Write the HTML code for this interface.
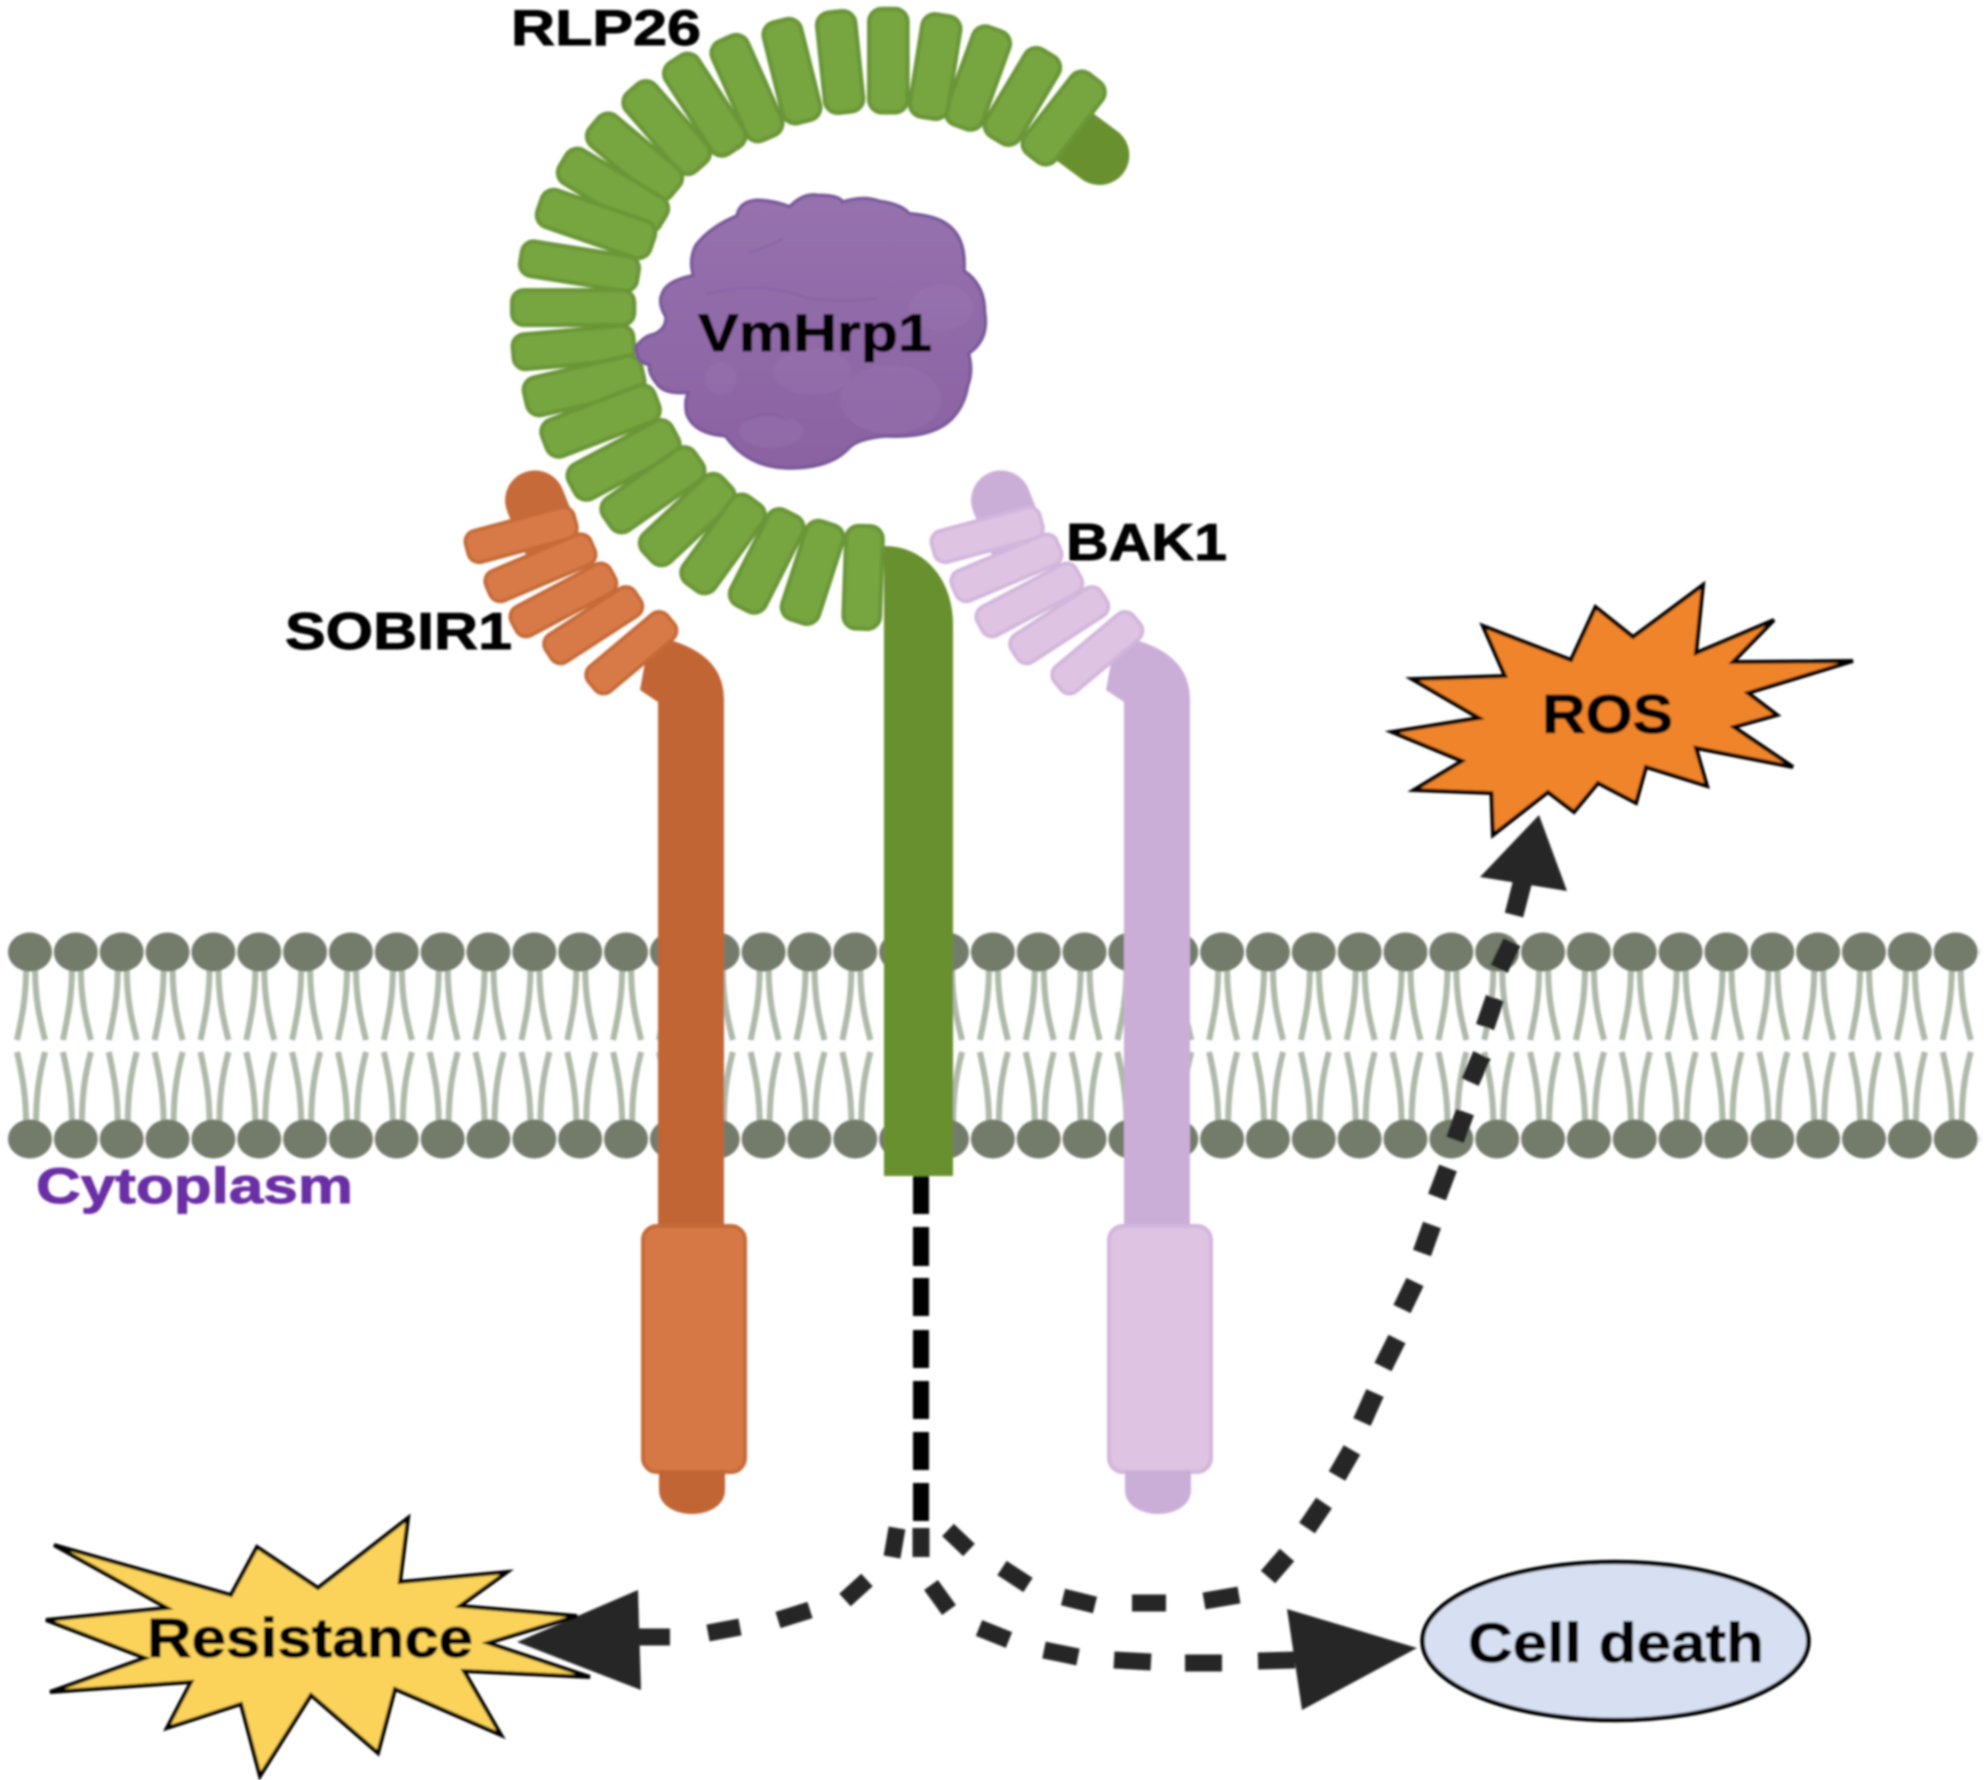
<!DOCTYPE html>
<html lang="en">
<head>
<meta charset="utf-8">
<title>VmHrp1 RLP26 signalling diagram</title>
<style>
html,body{margin:0;padding:0;background:#fff;width:1984px;height:1780px;overflow:hidden}
svg{display:block}
text{font-family:"Liberation Sans",Arial,sans-serif;font-weight:700;fill:#050505;stroke:#050505;stroke-width:.9}
</style>
</head>
<body>
<svg xmlns="http://www.w3.org/2000/svg" width="1984" height="1780" viewBox="0 0 1984 1780">
<defs>
<filter id="soft" x="-2%" y="-2%" width="104%" height="104%"><feGaussianBlur stdDeviation="1"/></filter>
<linearGradient id="blob" x1="0" y1="0" x2="0" y2="1"><stop offset="0" stop-color="#9672ae"/><stop offset="1" stop-color="#8b62a2"/></linearGradient>
<pattern id="lipid" patternUnits="userSpaceOnUse" x="7.075" y="925" width="45.85" height="240">
  <g fill="none" stroke="#aeb9a9" stroke-width="6">
    <path d="M19 44 C19 75 14 95 10 115"/>
    <path d="M28 44 C28 75 33 95 38 115"/>
    <path d="M10 127 C15 150 19 170 19 198"/>
    <path d="M38 127 C32 150 29 170 29 198"/>
  </g>
  <ellipse cx="22.9" cy="27" rx="22" ry="19.5" fill="#737c6a"/>
  <ellipse cx="22.9" cy="214" rx="22" ry="19.5" fill="#737c6a"/>
</pattern>
</defs>
<rect width="1984" height="1780" fill="#fff"/>
<g filter="url(#soft)">

<!-- membrane -->
<rect x="7" y="925" width="1973" height="240" fill="url(#lipid)"/>

<!-- SOBIR1 -->
<g>
  <path d="M650 635 C700 645 724 665 724 700 V1240 H658 V702 L640 690 Z" fill="#c16534"/>
  <rect x="643" y="1226" width="102" height="246" rx="14" fill="#d67845" stroke="#c56a38" stroke-width="4"/>
  <path d="M659 1470 H725 V1490 C725 1506 708 1514 692 1514 C676 1514 659 1506 659 1490 Z" fill="#c16534"/>
  <g transform="translate(450,0) scale(.459)">
    <path d="M185 1090 L215 1165" stroke="#c56a38" stroke-width="130" stroke-linecap="round" fill="none"/>
    <g fill="#d87a47" stroke="#c56a38" stroke-width="8">
      <rect x="-35" y="-122" width="70" height="244" rx="24" transform="translate(155,1165) rotate(-105)"/>
      <rect x="-35" y="-124" width="70" height="248" rx="24" transform="translate(197,1237) rotate(-113)"/>
      <rect x="-35" y="-122" width="70" height="244" rx="24" transform="translate(247,1307) rotate(-118)"/>
      <rect x="-35" y="-116" width="70" height="232" rx="24" transform="translate(312,1362) rotate(-123)"/>
      <rect x="-35" y="-112" width="70" height="224" rx="24" transform="translate(395,1422) rotate(-130)"/>
    </g>
  </g>
</g>

<!-- BAK1 -->
<g transform="translate(466,0)">
  <path d="M650 635 C700 645 724 665 724 700 V1240 H658 V702 L640 690 Z" fill="#cbaed8"/>
  <rect x="643" y="1226" width="102" height="246" rx="14" fill="#dfc3e3" stroke="#d2b6dc" stroke-width="4"/>
  <path d="M659 1470 H725 V1490 C725 1506 708 1514 692 1514 C676 1514 659 1506 659 1490 Z" fill="#cbaed8"/>
  <g transform="translate(450,0) scale(.459)">
    <path d="M185 1090 L215 1165" stroke="#cbaed8" stroke-width="130" stroke-linecap="round" fill="none"/>
    <g fill="#dfc3e3" stroke="#d2b6dc" stroke-width="8">
      <rect x="-35" y="-122" width="70" height="244" rx="24" transform="translate(155,1165) rotate(-105)"/>
      <rect x="-35" y="-124" width="70" height="248" rx="24" transform="translate(197,1237) rotate(-113)"/>
      <rect x="-35" y="-122" width="70" height="244" rx="24" transform="translate(247,1307) rotate(-118)"/>
      <rect x="-35" y="-116" width="70" height="232" rx="24" transform="translate(312,1362) rotate(-123)"/>
      <rect x="-35" y="-112" width="70" height="224" rx="24" transform="translate(395,1422) rotate(-130)"/>
    </g>
  </g>
</g>

<!-- RLP26 stalk -->
<path d="M884 546 C925 546 953 580 953 625 V1176 H884 Z" fill="#67902f"/>

<!-- RLP26 arc -->
<g transform="translate(450,0) scale(.459)">
  <path d="M1350 290 L1415 338" stroke="#67902f" stroke-width="130" stroke-linecap="round" fill="none"/>
  <g fill="#77a53f" stroke="#6a9637" stroke-width="9">
    <rect x="-42" y="-110" width="84" height="220" rx="28" transform="translate(1337,257) rotate(38)"/>
    <rect x="-42" y="-110" width="84" height="220" rx="28" transform="translate(1247,210) rotate(31)"/>
    <rect x="-42" y="-113" width="84" height="226" rx="28" transform="translate(1150,170) rotate(20)"/>
    <rect x="-42" y="-113" width="84" height="226" rx="28" transform="translate(1057,145) rotate(9)"/>
    <rect x="-42" y="-113" width="84" height="226" rx="28" transform="translate(955,132) rotate(0)"/>
    <rect x="-42" y="-110" width="84" height="220" rx="28" transform="translate(850,135) rotate(-6)"/>
    <rect x="-42" y="-113" width="84" height="226" rx="28" transform="translate(745,155) rotate(-14)"/>
    <rect x="-42" y="-118" width="84" height="236" rx="28" transform="translate(647,192) rotate(-24)"/>
    <rect x="-42" y="-118" width="84" height="236" rx="28" transform="translate(555,228) rotate(-33)"/>
    <rect x="-42" y="-113" width="84" height="226" rx="28" transform="translate(472,278) rotate(-41)"/>
    <rect x="-42" y="-115" width="84" height="230" rx="28" transform="translate(402,342) rotate(-50)"/>
    <rect x="-42" y="-127" width="84" height="254" rx="28" transform="translate(355,415) rotate(-59)"/>
    <rect x="-42" y="-130" width="84" height="260" rx="28" transform="translate(318,488) rotate(-71)"/>
    <rect x="-38" y="-129" width="76" height="258" rx="26" transform="translate(282,580) rotate(-81)"/>
    <rect x="-38" y="-133" width="76" height="266" rx="26" transform="translate(268,670) rotate(-90)"/>
    <rect x="-38" y="-132" width="76" height="264" rx="26" transform="translate(269,757) rotate(-95)"/>
    <rect x="-42" y="-131" width="84" height="262" rx="28" transform="translate(292,840) rotate(-103)"/>
    <rect x="-42" y="-131" width="84" height="262" rx="28" transform="translate(328,917) rotate(-111)"/>
    <rect x="-42" y="-127" width="84" height="254" rx="28" transform="translate(378,1002) rotate(-118)"/>
    <rect x="-42" y="-121" width="84" height="242" rx="28" transform="translate(442,1067) rotate(-125)"/>
    <rect x="-42" y="-118" width="84" height="236" rx="28" transform="translate(517,1132) rotate(-133)"/>
    <rect x="-42" y="-116" width="84" height="232" rx="28" transform="translate(595,1185) rotate(-144)"/>
    <rect x="-42" y="-116" width="84" height="232" rx="28" transform="translate(690,1222) rotate(-153)"/>
    <rect x="-42" y="-112" width="84" height="224" rx="28" transform="translate(790,1247) rotate(-162)"/>
    <rect x="-40" y="-112" width="80" height="224" rx="28" transform="translate(900,1258) rotate(-178)"/>
  </g>
  <!-- VmHrp1 blob -->
  <path d="M405 755 Q425 730 445 728 Q472 715 470 690 Q452 660 462 640 Q470 612 530 600 Q520 565 535 535 Q565 495 625 470 Q630 440 665 436 Q700 435 740 450 Q770 420 800 425 Q850 425 855 440 Q900 425 935 438 Q985 445 1000 465 Q1060 470 1085 490 Q1125 520 1120 590 Q1165 620 1165 680 Q1175 740 1130 770 Q1140 810 1128 840 Q1120 890 1085 920 Q1040 955 950 950 Q890 955 870 975 Q830 1020 740 1020 Q650 1020 600 950 Q530 945 515 900 Q510 870 520 855 Q465 860 450 835 Q430 810 435 795 Q405 790 405 755 Z" fill="url(#blob)" stroke="#79589a" stroke-width="7" stroke-linejoin="round"/>
  <g fill="#9b78b3" opacity=".35">
    <ellipse cx="960" cy="870" rx="110" ry="75"/>
    <ellipse cx="1070" cy="670" rx="70" ry="50"/>
    <ellipse cx="790" cy="810" rx="85" ry="50"/>
    <ellipse cx="590" cy="825" rx="35" ry="35"/>
    <ellipse cx="700" cy="940" rx="70" ry="35"/>
  </g>
  <g fill="none" stroke="#845f9f" stroke-width="5" opacity=".55">
    <path d="M650 550 Q690 540 725 520"/>
    <path d="M650 915 Q690 890 735 915"/>
    <path d="M560 640 Q680 610 780 650 Q860 660 930 650"/>
  </g>
</g>

<!-- connectors -->
<g stroke="#000" stroke-width="16" fill="none">
  <path d="M921 1176 V1214 M921 1227 V1266 M921 1278 V1316 M921 1330 V1368 M921 1381 V1419 M921 1432 V1470 M921 1483 V1521"/>
</g>
<g stroke="#262626" stroke-width="17" fill="none">
  <path d="M921 1528 V1557"/>
  <path d="M897 1528 L892 1557"/>
  <path d="M948 1530 L969 1550"/>
  <path d="M1002 1568 L1028 1585"/>
  <path d="M1063 1597 L1095 1605"/>
  <path d="M1132 1603 L1166 1603"/>
  <path d="M1204 1601 L1239 1595"/>
</g>
<g stroke="#262626" stroke-width="19" fill="none">
  <path d="M1268 1577 L1287 1555"/>
  <path d="M1307 1528 L1324 1503"/>
  <path d="M1337 1476 L1352 1450"/>
  <path d="M1362 1422 L1375 1393"/>
  <path d="M1383 1367 L1397 1339"/>
  <path d="M1402 1309 L1415 1282"/>
  <path d="M1422 1253 L1432 1225"/>
  <path d="M1437 1197 L1448 1168"/>
  <path d="M1455 1140 L1465 1112"/>
  <path d="M1470 1082 L1482 1055"/>
  <path d="M1485 1027 L1495 998"/>
  <path d="M1499 969 L1512 942"/>
  <path d="M1514 915 L1523 880"/>
</g>
<g stroke="#262626" stroke-width="17" fill="none">
  <path d="M931 1585 L949 1610"/>
  <path d="M979 1628 L1009 1640"/>
  <path d="M1044 1650 L1078 1657"/>
  <path d="M1114 1660 L1151 1662"/>
  <path d="M1185 1663 L1222 1663"/>
  <path d="M1258 1661 L1295 1660"/>
  <path d="M867 1580 L845 1600"/>
  <path d="M810 1610 L778 1620"/>
  <path d="M740 1627 L708 1633"/>
  <path d="M670 1637 L636 1637"/>
</g>
<g fill="#262626">
  <polygon points="1539,815 1480,877 1567,891"/>
  <polygon points="1287,1609 1417,1648 1302,1710"/>
  <polygon points="517,1642 638,1590 641,1690"/>
</g>

<!-- Resistance burst -->
<polygon points="54,1545 231,1595 257,1547 318,1588 408,1518 400,1582 507,1572 460,1606 577,1616 488,1643 590,1677 464,1671 501,1735 395,1689 378,1753 311,1695 260,1776 241,1704 167,1728 191,1682 50,1692 145,1658 46,1620 167,1608" fill="#fbd35a" stroke="#000" stroke-width="4" stroke-linejoin="miter"/>

<!-- ROS burst -->
<polygon points="1483,626 1571,660 1595.5,607 1633,637 1703,585 1696,653 1774,620 1733,662 1853,661 1748,693 1777,715 1734,727 1793,767 1696,748 1707,786 1646,767 1636,803 1598,783 1574,812 1548,792 1493,835 1491.5,793 1414,790 1462,761 1392,732 1479,718 1412,679 1505,676" fill="#f0842c" stroke="#000" stroke-width="4" stroke-linejoin="miter"/>

<!-- Cell death -->
<ellipse cx="1615.5" cy="1641" rx="193" ry="79" fill="#d6e0f2" stroke="#000" stroke-width="4.5"/>

<!-- labels -->
<text x="511" y="45" font-size="50" textLength="190" lengthAdjust="spacingAndGlyphs">RLP26</text>
<text x="698" y="351" font-size="53" textLength="234" lengthAdjust="spacingAndGlyphs">VmHrp1</text>
<text x="1066" y="560" font-size="52" textLength="161" lengthAdjust="spacingAndGlyphs">BAK1</text>
<text x="285" y="649" font-size="52" textLength="227" lengthAdjust="spacingAndGlyphs">SOBIR1</text>
<text x="1542" y="733" font-size="55" textLength="131" lengthAdjust="spacingAndGlyphs">ROS</text>
<text x="36" y="1203" font-size="50" textLength="317" lengthAdjust="spacingAndGlyphs" style="fill:#6a2fa5;stroke:#6a2fa5">Cytoplasm</text>
<text x="147" y="1657" font-size="56" textLength="326" lengthAdjust="spacingAndGlyphs">Resistance</text>
<text x="1468" y="1662" font-size="56" textLength="296" lengthAdjust="spacingAndGlyphs">Cell death</text>
</g>
</svg>
</body>
</html>
